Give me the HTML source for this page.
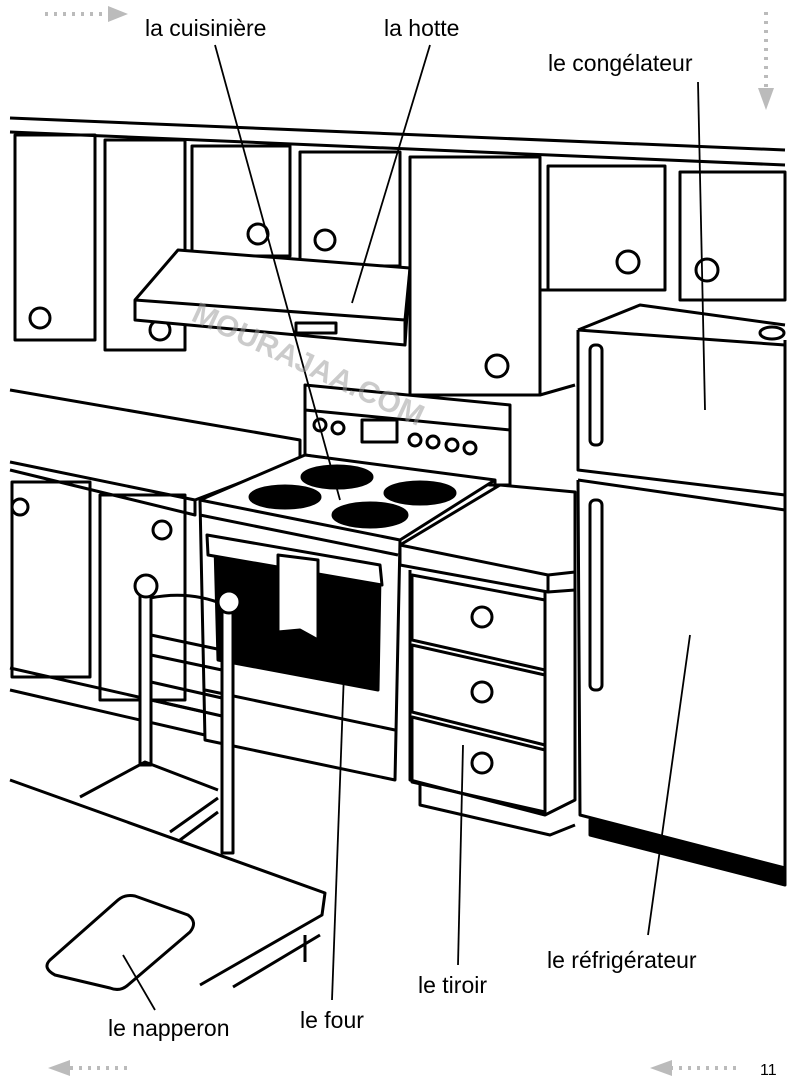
<!DOCTYPE html>
<html><head><meta charset="utf-8"><style>
html,body{margin:0;padding:0;background:#fff}
svg{display:block}
text{font-family:"Liberation Sans Narrow","Liberation Sans",sans-serif;font-size:23px;fill:#000}
</style></head><body>
<svg width="790" height="1081" viewBox="0 0 790 1081" xmlns="http://www.w3.org/2000/svg">
<g fill="none" stroke="#000" stroke-width="3" stroke-linejoin="round">
<path d="M10 118 L785 150 M10 132 L785 165"/>
<rect x="15" y="135" width="80" height="205"/>
<rect x="105" y="140" width="80" height="210"/>
<rect x="192" y="146" width="98" height="110"/>
<rect x="300" y="152" width="100" height="114"/>
<rect x="410" y="157" width="130" height="238"/>
<rect x="548" y="166" width="117" height="124"/>
<rect x="680" y="172" width="105" height="128"/>
<path d="M540 290 L665 290 M540 395 L575 385"/>
<circle cx="40" cy="318" r="10"/><circle cx="160" cy="330" r="10"/>
<circle cx="258" cy="234" r="10"/><circle cx="325" cy="240" r="10"/>
<circle cx="497" cy="366" r="11"/><circle cx="628" cy="262" r="11"/>
<circle cx="707" cy="270" r="11"/>
<path d="M135 300 L178 250 L410 268 L405 345 L135 320 Z" fill="#fff"/>
<path d="M135 300 L405 320 L410 268 M405 320 L405 345"/>
<rect x="296" y="323" width="40" height="10"/>
<path d="M10 390 L300 440 L300 460 L195 500 L195 515 L10 470"/>
<path d="M10 462 L195 500"/>
<rect x="12" y="482" width="78" height="195"/>
<rect x="100" y="495" width="85" height="205"/>
<circle cx="20" cy="507" r="8"/><circle cx="162" cy="530" r="9"/>
<path d="M10 668 L205 712 M10 690 L205 735"/>
<path d="M305 385 L510 405 L510 485 L490 485 L305 455 Z" fill="#fff"/>
<path d="M305 410 L510 430"/>
<rect x="362" y="420" width="35" height="22"/>
<circle cx="320" cy="425" r="6"/><circle cx="338" cy="428" r="6"/>
<circle cx="415" cy="440" r="6"/><circle cx="433" cy="442" r="6"/><circle cx="452" cy="445" r="6"/><circle cx="470" cy="448" r="6"/>
<path d="M200 500 L305 455 L495 480 L400 540 Z" fill="#fff"/>
<ellipse cx="337" cy="477" rx="35" ry="11" fill="#000"/>
<ellipse cx="285" cy="497" rx="35" ry="11" fill="#000"/>
<ellipse cx="420" cy="493" rx="35" ry="11" fill="#000"/>
<ellipse cx="370" cy="515" rx="37" ry="12" fill="#000"/>
<path d="M200 500 L205 740 L395 780 L400 540 M200 515 L398 555 M495 480 L495 495 L400 555"/>
<path d="M215 545 L380 575 L378 690 L218 660 Z" fill="#000"/>
<path d="M207 535 L380 565 L382 585 L208 555 Z" fill="#fff"/>
<path d="M278 555 L318 560 L318 640 L300 630 L278 632 Z" fill="#fff"/>
<path d="M205 690 L395 730"/>
<path d="M400 545 L500 485 L575 492 L575 590 L548 592 L400 565 Z" fill="#fff"/>
<path d="M400 545 L548 575 L575 572 M548 575 L548 592"/>
<path d="M410 570 L410 780 L545 815 L545 592 M545 815 L575 800 L575 590"/>
<path d="M412 575 L545 600 L545 670 L412 640 Z M412 645 L545 675 L545 745 L412 712 Z M412 717 L545 750 L545 812 L412 782 Z"/>
<circle cx="482" cy="617" r="10"/><circle cx="482" cy="692" r="10"/><circle cx="482" cy="763" r="10"/>
<path d="M420 785 L420 805 L550 835 L575 825"/>
<path d="M578 330 L640 305 L785 325 M578 330 L578 470 L785 495 M578 330 L785 345"/>
<path d="M578 480 L785 510 M578 480 L580 815 L785 868 M785 340 L785 870"/>
<rect x="590" y="345" width="12" height="100" rx="5"/>
<rect x="590" y="500" width="12" height="190" rx="5"/>
<path d="M590 820 L785 870 L785 885 L590 835 Z" fill="#000"/>
<ellipse cx="772" cy="333" rx="12" ry="6"/>
<!-- chair -->
<path d="M150 598 Q190 590 225 605" />
<rect x="140" y="595" width="11" height="170" fill="#fff"/>
<rect x="222" y="608" width="11" height="245" fill="#fff"/>
<circle cx="146" cy="586" r="11" fill="#fff"/><circle cx="229" cy="602" r="11" fill="#fff"/>
<path d="M151 635 L222 650 M151 655 L222 670 M151 682 L222 698 M151 700 L222 716"/>
<path d="M80 797 L145 762 L218 790 M170 832 L218 798 M180 840 L218 812"/>
<!-- table -->
<path d="M10 780 L325 893 L322 915 L200 985 L10 1075 Z" fill="#fff" stroke="none"/>
<path d="M10 780 L325 893 L322 915 L200 985 M233 987 L320 935"/>
<path d="M305 935 L305 962" />
<path d="M50 960 L118 900 Q125 894 135 896 L188 915 Q198 922 190 932 L128 985 Q120 992 110 988 L55 975 Q42 968 50 960 Z"/>
</g>
<g stroke="#000" stroke-width="1.8">
<line x1="215" y1="45" x2="340" y2="500"/>
<line x1="430" y1="45" x2="352" y2="303"/>
<line x1="698" y1="82" x2="705" y2="410"/>
<line x1="648" y1="935" x2="690" y2="635"/>
<line x1="458" y1="965" x2="463" y2="745"/>
<line x1="332" y1="1000" x2="345" y2="645"/>
<line x1="155" y1="1010" x2="123" y2="955"/>
</g>
<text x="145" y="36">la cuisinière</text>
<text x="384" y="36">la hotte</text>
<text x="548" y="71">le congélateur</text>
<text x="547" y="968">le réfrigérateur</text>
<text x="418" y="993">le tiroir</text>
<text x="300" y="1028">le four</text>
<text x="108" y="1036">le napperon</text>
<text x="760" y="1075" style="font-size:16px">11</text>
<g stroke="#bbb" stroke-width="4" stroke-dasharray="3 6" fill="none">
<line x1="45" y1="14" x2="110" y2="14"/>
<line x1="766" y1="12" x2="766" y2="90"/>
<line x1="70" y1="1068" x2="130" y2="1068"/>
<line x1="670" y1="1068" x2="740" y2="1068"/>
</g>
<g fill="#bbb">
<polygon points="108,6 128,14 108,22"/>
<polygon points="758,88 774,88 766,110"/>
<polygon points="70,1060 48,1068 70,1076"/>
<polygon points="672,1060 650,1068 672,1076"/>
</g>
<text x="190" y="320" transform="rotate(25 190 320)" style="font-size:30px;fill:#999;opacity:0.5;font-weight:bold">MOURAJAA.COM</text>
</svg>
</body></html>
